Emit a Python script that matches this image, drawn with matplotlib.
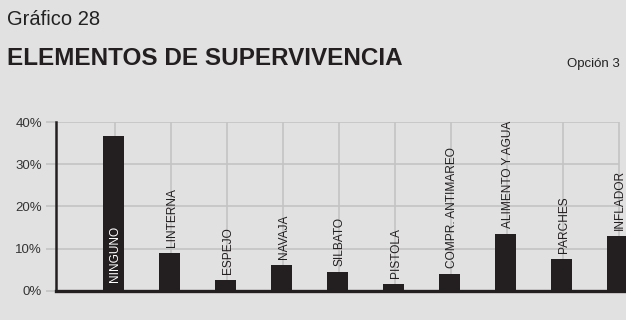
import matplotlib
matplotlib.use("Agg")
from matplotlib import pyplot as plt

# Datos del gráfico
categorias = ["NINGUNO", "LINTERNA", "ESPEJO", "NAVAJA", "SILBATO", "PISTOLA",
              "COMPR. ANTIMAREO", "ALIMENTO Y AGUA", "PARCHES", "INFLADOR"]
porcentajes = [36.7, 8.9, 2.5, 6.1, 4.4, 1.6, 4.0, 13.4, 7.5, 13.0]
marcas_y = [0, 10, 20, 30, 40]
etiquetas_y = ["0%", "10%", "20%", "30%", "40%"]

fondo = "#e1e1e1"
oscuro = "#231f20"
rejilla = "#c4c4c4"

plt.rcParams["font.family"] = ["Liberation Sans", "DejaVu Sans"]

fig = plt.figure(figsize=(6.26, 3.2), dpi=100, facecolor=fondo)
ax = fig.add_axes([0.0895, 0.0916, 0.9105, 0.527], facecolor=fondo)

x = list(range(len(categorias)))

# Rejilla: horizontales hasta la última categoría, verticales en cada barra
ax.hlines(marcas_y[1:], -1.05, x[-1], color=rejilla, linewidth=1.2, zorder=0)
ax.vlines(x, 0, 40, color=rejilla, linewidth=1.2, zorder=0)

# Barras
ax.bar([i - 0.025 for i in x], porcentajes, width=0.375, color=oscuro, zorder=2)

# Etiquetas verticales sobre cada barra (NINGUNO va dentro, en blanco)
for i, (nombre, valor) in enumerate(zip(categorias, porcentajes)):
    if i == 0:
        ax.annotate(nombre, (i, 0), xytext=(0, 6), textcoords="offset points",
                    rotation=90, ha="center", va="bottom", color="white",
                    fontsize=8.6, zorder=3)
    else:
        ax.annotate(nombre, (i, valor), xytext=(0.8, 4.5), textcoords="offset points",
                    rotation=90, ha="center", va="bottom", color=oscuro,
                    fontsize=8.6, zorder=3)

ax.set_xlim(-1.05, 9.13)
ax.set_ylim(0, 40)
ax.set_xticks([])
ax.set_yticks(marcas_y)
ax.set_yticklabels(etiquetas_y, fontsize=9.5, color="#333333")
ax.tick_params(axis="y", length=7, width=1.2, color=rejilla, pad=3)

# Ejes: izquierda y abajo oscuros, sin bordes arriba ni a la derecha
ax.spines["right"].set_color("none")
ax.spines["top"].set_color("none")
ax.spines["left"].set_color(oscuro)
ax.spines["left"].set_linewidth(1.8)
ax.spines["bottom"].set_color(oscuro)
ax.spines["bottom"].set_linewidth(2.4)
ax.spines["left"].set_zorder(4)
ax.spines["bottom"].set_zorder(4)

# Títulos
fig.text(0.011, 0.922, "Gráfico 28", fontsize=14.5, color="#222222")
fig.text(0.011, 0.797, "ELEMENTOS DE SUPERVIVENCIA", fontsize=17.5,
         fontweight="bold", color=oscuro)
fig.text(0.990, 0.792, "Opción 3", fontsize=9.5, ha="right", color="#222222")

plt.savefig("out.png", dpi=100, facecolor=fondo)
